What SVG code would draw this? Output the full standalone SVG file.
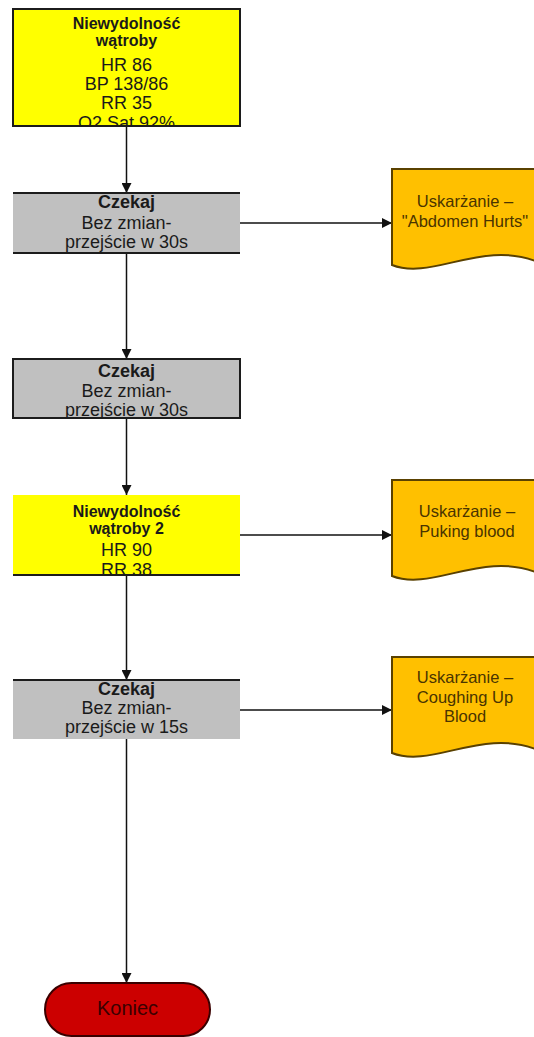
<svg xmlns="http://www.w3.org/2000/svg" width="534" height="1037" viewBox="0 0 534 1037">
  <style>
    .yel { fill: #ffff00; }
    .gry { fill: #c0c0c0; }
    .edge { stroke: #1c1c1c; stroke-width: 2; fill: none; }
    .t { font-family: "Liberation Sans", Arial, sans-serif; text-anchor: middle; fill: #1a1a1a; }
    .tb { font-weight: bold; font-size: 16px; }
    .tr { font-size: 18px; }
    .doc { fill: #ffc000; stroke: #5a4100; stroke-width: 2; }
    .dt { font-family: "Liberation Sans", Arial, sans-serif; text-anchor: middle; fill: #4a3400; font-size: 16.5px; }
    .conn { stroke: #111; stroke-width: 1.5; fill: none; marker-end: url(#arrow); }
  </style>
  <defs>
    <marker id="arrow" viewBox="0 0 10 10" refX="10" refY="5" markerWidth="10" markerHeight="10" markerUnits="userSpaceOnUse" orient="auto">
      <path d="M0,0 L10,5 L0,10 Z" fill="#111"/>
    </marker>
    <!-- document shape with wavy bottom edge -->
    <path id="docShape" d="M0,0 H146 V93 C90,70 40,112 0,96 Z"/>
    <clipPath id="c1"><rect x="13" y="9" width="227" height="117"/></clipPath>
    <clipPath id="c2"><rect x="13" y="193" width="227" height="60"/></clipPath>
    <clipPath id="c3"><rect x="13" y="359" width="227" height="59"/></clipPath>
    <clipPath id="c4"><rect x="13" y="495" width="227" height="80"/></clipPath>
    <clipPath id="c5"><rect x="13" y="680" width="227" height="59"/></clipPath>
  </defs>

  <!-- connectors -->
  <g id="connectors">
    <line class="conn" x1="126.5" y1="126" x2="126.5" y2="193"/>
    <line class="conn" x1="126.5" y1="253" x2="126.5" y2="359"/>
    <line class="conn" x1="126.5" y1="418" x2="126.5" y2="495"/>
    <line class="conn" x1="126.5" y1="575" x2="126.5" y2="680"/>
    <line class="conn" x1="126.5" y1="739" x2="126.5" y2="983"/>
    <line class="conn" x1="240" y1="223" x2="392" y2="223"/>
    <line class="conn" x1="240" y1="535" x2="392" y2="535"/>
    <line class="conn" x1="240" y1="710" x2="392" y2="710"/>
  </g>

  <!-- liver failure, stage 1 -->
  <g id="node-liver1">
    <rect class="yel" x="13" y="9" width="227" height="117"/>
    <g clip-path="url(#c1)">
      <text class="t tb" x="126.5" y="29">Niewydolność</text>
      <text class="t tb" x="126.5" y="46">wątroby</text>
      <text class="t tr" x="126.5" y="71">HR 86</text>
      <text class="t tr" x="126.5" y="90">BP 138/86</text>
      <text class="t tr" x="126.5" y="109">RR 35</text>
      <text class="t tr" x="126.5" y="129">O2 Sat 92%</text>
    </g>
    <rect class="edge" x="13" y="9" width="227" height="117"/>
  </g>

  <!-- wait 30s -->
  <g id="node-wait1">
    <rect class="gry" x="13" y="193" width="227" height="60"/>
    <g clip-path="url(#c2)">
      <text class="t tr" x="126.5" y="208" font-weight="bold" font-size="17">Czekaj</text>
      <text class="t tr" x="126.5" y="229">Bez zmian-</text>
      <text class="t tr" x="126.5" y="248">przejście w 30s</text>
    </g>
    <line class="edge" x1="13" y1="193" x2="240" y2="193"/>
    <line class="edge" x1="13" y1="253" x2="240" y2="253"/>
  </g>

  <!-- wait 30s -->
  <g id="node-wait2">
    <rect class="gry" x="13" y="359" width="227" height="59"/>
    <g clip-path="url(#c3)">
      <text class="t tr" x="126.5" y="377" font-weight="bold" font-size="17">Czekaj</text>
      <text class="t tr" x="126.5" y="397">Bez zmian-</text>
      <text class="t tr" x="126.5" y="416">przejście w 30s</text>
    </g>
    <rect class="edge" x="13" y="359" width="227" height="59"/>
  </g>

  <!-- liver failure, stage 2 -->
  <g id="node-liver2">
    <rect class="yel" x="13" y="495" width="227" height="80"/>
    <g clip-path="url(#c4)">
      <text class="t tb" x="126.5" y="517">Niewydolność</text>
      <text class="t tb" x="126.5" y="534">wątroby 2</text>
      <text class="t tr" x="126.5" y="556">HR 90</text>
      <text class="t tr" x="126.5" y="576">RR 38</text>
    </g>
    <line class="edge" x1="13" y1="575" x2="240" y2="575"/>
  </g>

  <!-- wait 15s -->
  <g id="node-wait3">
    <rect class="gry" x="13" y="680" width="227" height="59"/>
    <g clip-path="url(#c5)">
      <text class="t tr" x="126.5" y="695" font-weight="bold" font-size="17">Czekaj</text>
      <text class="t tr" x="126.5" y="714">Bez zmian-</text>
      <text class="t tr" x="126.5" y="733">przejście w 15s</text>
    </g>
    <line class="edge" x1="13" y1="680" x2="240" y2="680"/>
  </g>

  <!-- complaints -->
  <g id="node-complaint1">
    <use href="#docShape" class="doc" x="392" y="169"/>
    <text class="dt" x="465" y="207">Uskarżanie –</text>
    <text class="dt" x="465" y="227">"Abdomen Hurts"</text>
  </g>

  <g id="node-complaint2">
    <use href="#docShape" class="doc" x="392" y="480"/>
    <text class="dt" x="467" y="517">Uskarżanie –</text>
    <text class="dt" x="467" y="537">Puking blood</text>
  </g>

  <g id="node-complaint3">
    <use href="#docShape" class="doc" x="392" y="657"/>
    <text class="dt" x="465" y="683">Uskarżanie –</text>
    <text class="dt" x="465" y="703">Coughing Up</text>
    <text class="dt" x="465" y="722">Blood</text>
  </g>

  <!-- end -->
  <g id="node-end">
    <rect x="45" y="983" width="165" height="53" rx="26.5" fill="#cc0000" stroke="#3a0000" stroke-width="2"/>
    <text x="127.5" y="1015" font-family="'Liberation Sans', Arial, sans-serif" font-size="20" text-anchor="middle" fill="#3a0000">Koniec</text>
  </g>
</svg>
